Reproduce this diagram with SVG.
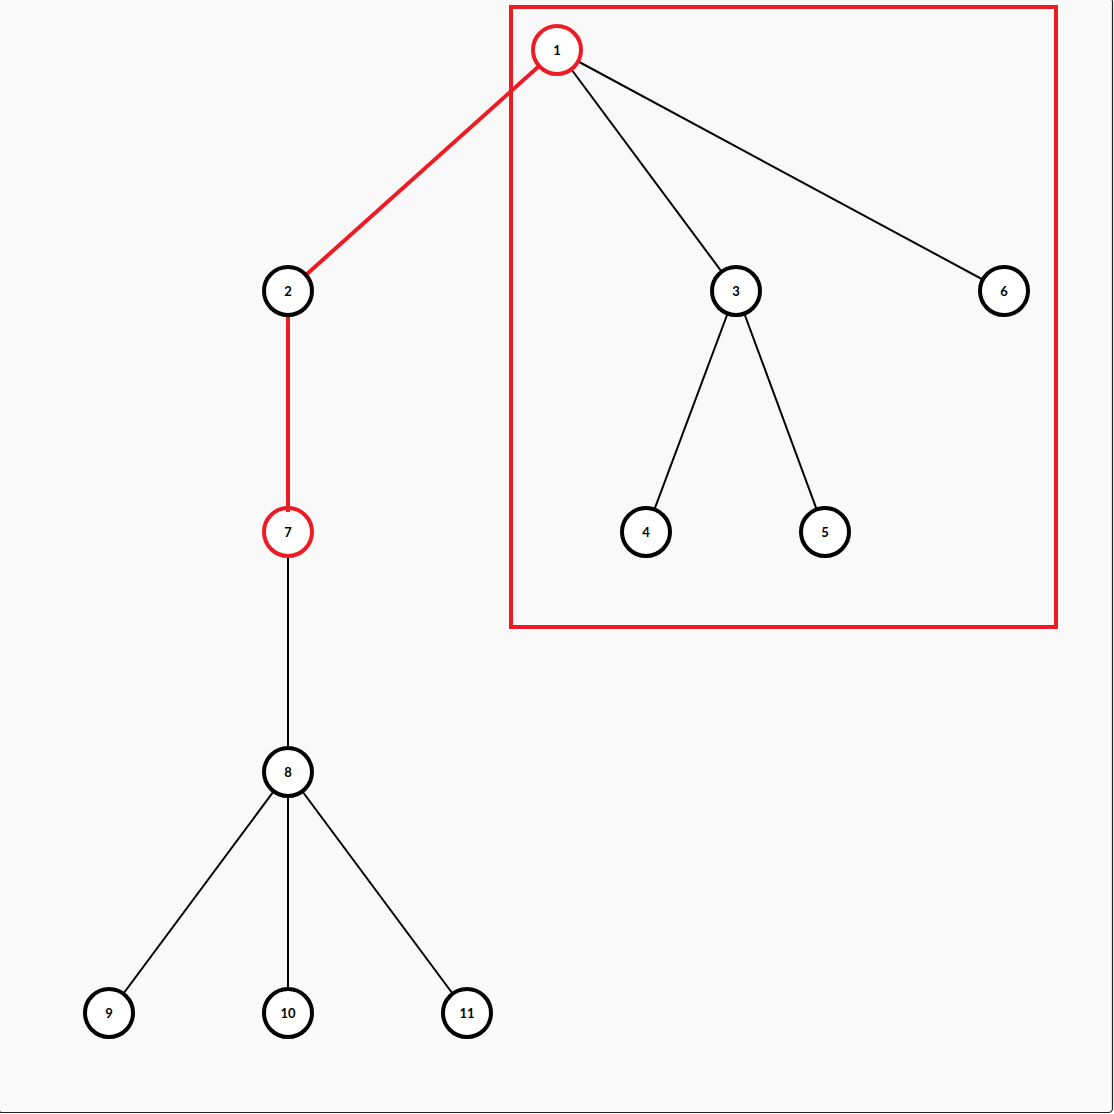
<svg xmlns="http://www.w3.org/2000/svg" width="1114" height="1114" viewBox="0 0 1114 1114">
<style>
.e{stroke:#000;stroke-width:2;fill:none}
.r{stroke:#ed1c24;stroke-width:4;fill:none}
.n circle{fill:#fff;stroke:#000;stroke-width:4}
.n.h circle{stroke:#ed1c24}
.n text{font-family:Lato,"Liberation Sans",sans-serif;font-weight:bold;font-size:13px;text-anchor:middle;dominant-baseline:central;fill:#000}
</style>
<rect x="-2" y="-2" width="1114.5" height="1114.5" rx="4" fill="#f9f9f9" stroke="#222" stroke-width="1.2"/>
<rect x="511" y="7" width="545" height="620" class="r"/>
<g id="connectors">
<line class="r" x1="557" y1="50" x2="288" y2="291"/>
<line class="r" x1="288" y1="291" x2="288" y2="510"/>
<line class="e" x1="557" y1="50" x2="736" y2="291"/>
<line class="e" x1="557" y1="50" x2="1004" y2="291"/>
<line class="e" x1="736" y1="291" x2="646" y2="532"/>
<line class="e" x1="736" y1="291" x2="825" y2="532"/>
<line class="e" x1="288" y1="532" x2="288" y2="772"/>
<line class="e" x1="288" y1="772" x2="109" y2="1013"/>
<line class="e" x1="288" y1="772" x2="288" y2="1013"/>
<line class="e" x1="288" y1="772" x2="467" y2="1013"/>
</g>
<g id="n1" class="n h"><circle cx="557" cy="50" r="24"/><text x="557" y="50">1</text></g>
<g id="n2" class="n"><circle cx="288" cy="291" r="24"/><text x="288" y="291">2</text></g>
<g id="n3" class="n"><circle cx="736" cy="291" r="24"/><text x="736" y="291">3</text></g>
<g id="n6" class="n"><circle cx="1004" cy="291" r="24"/><text x="1004" y="291">6</text></g>
<g id="n4" class="n"><circle cx="646" cy="532" r="24"/><text x="646" y="532">4</text></g>
<g id="n5" class="n"><circle cx="825" cy="532" r="24"/><text x="825" y="532">5</text></g>
<g id="n7" class="n h"><circle cx="288" cy="532" r="24"/><text x="288" y="532">7</text></g>
<line class="r" x1="288" y1="506" x2="288" y2="512"/>
<g id="n8" class="n"><circle cx="288" cy="772" r="24"/><text x="288" y="772">8</text></g>
<g id="n9" class="n"><circle cx="109" cy="1013" r="24"/><text x="109" y="1013">9</text></g>
<g id="n10" class="n"><circle cx="288" cy="1013" r="24"/><text x="288" y="1013">10</text></g>
<g id="n11" class="n"><circle cx="467" cy="1013" r="24"/><text x="467" y="1013">11</text></g>
</svg>
